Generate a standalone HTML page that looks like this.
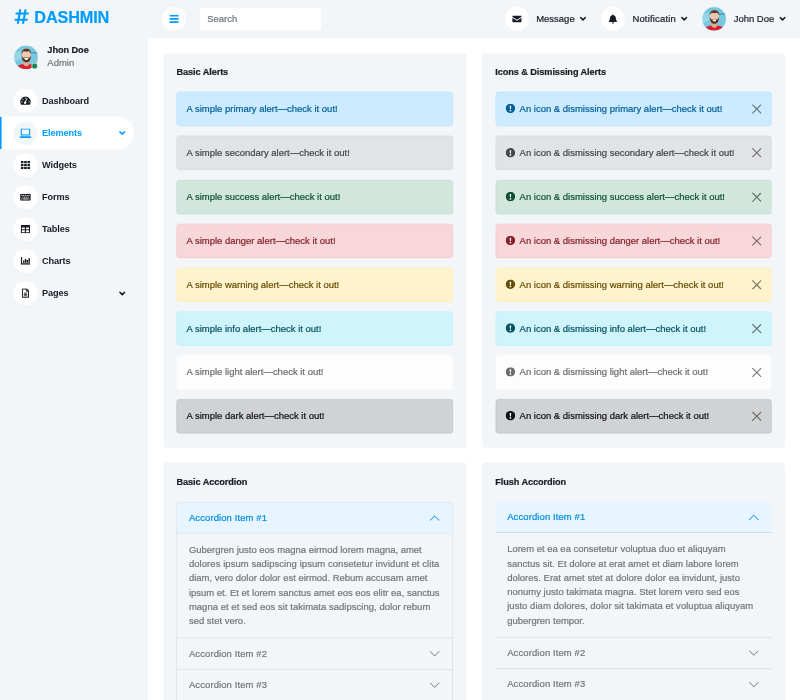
<!DOCTYPE html>
<html lang="en">
<head>
<meta charset="utf-8">
<title>DASHMIN - Bootstrap Admin Template</title>
<style>
*{box-sizing:border-box;margin:0;padding:0}
html,body{width:800px;height:700px;overflow:hidden;background:#fff}
body{font-family:"Liberation Sans",sans-serif;color:#757575;font-size:16px;line-height:24px;-webkit-text-stroke:0.35px currentColor}
#stage{position:absolute;left:0;top:0;width:1351px;height:1183px;transform:scale(0.59215);transform-origin:0 0;background:#fff;overflow:hidden}
h3,h6{font-family:"Liberation Sans",sans-serif;font-weight:700;color:#191C24;line-height:1.2}
h6{font-size:15.5px;-webkit-text-stroke:0.35px currentColor}
svg{display:block}

/* Sidebar */
.sidebar{position:absolute;left:0;top:0;width:250px;height:1183px;background:#F3F6F9;padding-right:24px}
.brand{display:block;margin:0 24px 16px 24px;height:59.5px;padding-top:11.5px;white-space:nowrap}
.brand h3{font-size:27.5px;color:#009CFF;display:flex;align-items:center;letter-spacing:-0.3px}
.brand svg{margin-right:9px}
.user{display:flex;align-items:center;margin-left:24px;margin-bottom:24.9px;height:43px}
.avatar{position:relative;width:40px;height:40px}
.avatar svg{border-radius:50%}
.avatar .dot{position:absolute;right:0;bottom:0;width:11.5px;height:11.5px;border-radius:50%;background:#198754;border:1.6px solid #fff}
.user .who{margin-left:16px}
.user .who h6{margin-bottom:0;line-height:19px;letter-spacing:-0.1px}
.user .who span{display:block;line-height:24px;margin-top:1px}
.nav a{-webkit-text-stroke:0;display:flex;align-items:center;height:54.1px;padding:7px 20px;border-left:3px solid #F3F6F9;border-radius:0 30px 30px 0;color:#191C24;font-weight:700;text-decoration:none;position:relative;font-size:15.5px;letter-spacing:-0.2px}
.nav a .ic{width:40px;height:40px;border-radius:40px;background:#fff;display:inline-flex;align-items:center;justify-content:center;margin-right:8px;flex:none}
.nav a.active{background:#fff;border-left-color:#009CFF;color:#009CFF}
.nav a.active .ic{background:#F3F6F9}
.nav a .chev{position:absolute;right:14px;top:24px}

/* Topbar */
.topbar{position:absolute;left:250px;top:0;width:1101px;height:64px;background:#F3F6F9;padding:0 24px;display:flex;align-items:center}
.toggler{width:40px;height:40px;border-radius:40px;background:#fff;display:inline-flex;align-items:center;justify-content:center;flex:none}
.search{margin-left:24px;width:204px;height:38px;background:#fff;border-radius:5px;padding:7px 12px;line-height:24px;color:#6c757d}
.tnav{margin-left:auto;display:flex;align-items:center}
.tnav .item{display:flex;align-items:center;margin-left:25px;color:#191C24;height:64px;white-space:nowrap}
.tnav .item .ic{width:40px;height:40px;border-radius:40px;background:#fff;display:inline-flex;align-items:center;justify-content:center;margin-right:13px;flex:none}
.tnav .item .chev{margin-left:8.5px}
.tnav .item .pic{width:40px;height:40px;border-radius:50%;overflow:hidden;margin-right:13px;flex:none}

/* Content */
.card{position:absolute;background:#F3F6F9;border-radius:5px;padding:22.5px 23px 24px 22.5px}
.card h6{margin-bottom:24px;height:19.2px;letter-spacing:-0.15px;position:relative;top:.9px}
.alert{position:relative;height:58px;padding:16px;margin-bottom:16.17px;border:1px solid transparent;border-radius:5px;line-height:24px;white-space:nowrap;display:flex;align-items:center}
.alert svg.ex{margin-right:8px;flex:none;position:relative;top:-.8px}
.alert .x{position:absolute;right:16px;top:20px;opacity:.5}
.a-primary{color:#005e99;background:#ccebff;border-color:#b3e1ff}
.a-secondary{color:#41464b;background:#e2e3e5;border-color:#d3d6d8}
.a-success{color:#0f5132;background:#d1e7dd;border-color:#badbcc}
.a-danger{color:#842029;background:#f8d7da;border-color:#f5c2c7}
.a-warning{color:#664d03;background:#fff3cd;border-color:#ffecb5}
.a-info{color:#055160;background:#cff4fc;border-color:#b6effb}
.a-light{color:#6c6d6f;background:#fdfdfe;border-color:#fbfcfd}
.a-dark{color:#0f1116;background:#d1d2d3;border-color:#babbbd}

.acc .item{border:1px solid rgba(0,0,0,.125);border-top:0}
.acc .item:first-child{border-top:1px solid rgba(0,0,0,.125);border-radius:5px 5px 0 0}
.acc .btn{letter-spacing:.18px;height:52px;padding:16px 20px;display:flex;align-items:center;justify-content:space-between;color:#757575;white-space:nowrap}
.acc .btn.open{color:#008ce6;background:#e6f5ff;box-shadow:inset 0 -1px 0 rgba(0,0,0,.125)}
.acc .item:first-child .btn{border-radius:4px 4px 0 0}
.acc .body{padding:16.5px 20px 15.5px;white-space:nowrap}
.acc.flush .item{border-left:0;border-right:0;border-radius:0}
.acc.flush .item:first-child{border-top:0}
.acc.flush .item:first-child .btn{border-radius:0}
</style>
</head>
<body>
<div id="stage">

<!-- Sidebar -->
<div class="sidebar">
  <a class="brand">
    <h3><svg width="25" height="28" viewBox="0 0 448 512" fill="#009CFF"><path d="M440.7 182.2l7.1-40c1.3-7.4-4.3-14.1-11.8-14.1h-74.8l14.6-81.9c1.3-7.4-4.3-14.1-11.8-14.1h-40.6c-5.800 0-10.800 4.200-11.800 9.900l-15.400 86.100h-98.600l14.600-81.900c1.300-7.400-4.300-14.100-11.800-14.100h-40.600c-5.800 0-10.800 4.200-11.800 9.900l-15.400 86.100h-79.100c-5.800 0-10.800 4.200-11.800 9.900l-7.100 40c-1.300 7.400 4.300 14.100 11.800 14.100h74.800l-22.900 128h-79.100c-5.800 0-10.800 4.200-11.800 9.900l-7.100 40c-1.300 7.400 4.300 14.100 11.800 14.100h74.800l-14.600 81.900c-1.300 7.400 4.300 14.100 11.800 14.100h40.600c5.800 0 10.800-4.200 11.800-9.900l15.400-86.100h98.600l-14.600 81.900c-1.300 7.400 4.300 14.100 11.800 14.100h40.600c5.800 0 10.800-4.200 11.800-9.900l15.400-86.100h79.100c5.800 0 10.800-4.200 11.800-9.900l7.100-40c1.300-7.400-4.300-14.100-11.800-14.100h-74.800l22.900-128h79.100c5.800 0 10.800-4.200 11.800-9.900zm-175.500 137.900h-98.600l22.900-128h98.600l-22.900 128z"/></svg>DASHMIN</h3>
  </a>
  <div class="user">
    <div class="avatar">
      <svg width="40" height="40" viewBox="0 0 40 40"><rect width="40" height="40" fill="#79c6df"/><path d="M0 12l12-3v14L0 27z" fill="#a3dbea" opacity=".7"/><path d="M28 11h12v2.200H28z" fill="#4f9dbb"/><path d="M3 40c0-6.500 6-9 17.500-9S37 33.500 37 40z" fill="#d91f2d"/><path d="M15.500 25h10v7c-1.500 2-3.200 3-5 3s-3.500-1-5-3z" fill="#deab90"/><ellipse cx="20.500" cy="16.500" rx="7.800" ry="10.300" fill="#edc9b3"/><path d="M12.700 16c-.2 9 3.800 12.300 7.800 12.300s8-3.300 7.800-12.300c-1 3.200-1.600 4.300-2.600 4.900-1.700-1.100-3.400-1.400-5.200-1.400s-3.500.3-5.200 1.400c-1-.6-1.600-1.700-2.600-4.900z" fill="#553424"/><path d="M16.800 21q3.700-1 7.400 0-.6 3.200-3.700 3.200t-3.700-3.200z" fill="#fff"/><path d="M12.700 14.500c-.8-6 3-9 7.800-9s8.600 3 7.800 9c-1-3-2.200-4.300-3.400-4.900-2.900.9-5.900.9-8.800 0-1.200.6-2.400 1.900-3.400 4.900z" fill="#633a27"/></svg>
      <div class="dot"></div>
    </div>
    <div class="who"><h6>Jhon Doe</h6><span>Admin</span></div>
  </div>
  <div class="nav">
    <a><span class="ic"><svg width="18" height="16" viewBox="0 0 18 16"><path fill="#191C24" d="M9 1a9 9 0 0 0-7.700 13.600c.2.300.500.400.800.400h13.800c.3 0 .6-.1.800-.4A9 9 0 0 0 9 1z"/><g fill="#fff"><circle cx="9" cy="3.600" r="1"/><circle cx="4.600" cy="5.600" r="1"/><circle cx="3" cy="10" r="1"/><circle cx="15" cy="10" r="1"/><path d="M12.300 4.700l-2.400 5.300a2 2 0 1 1-1.500-.6l2.500-5.200z"/></g></svg></span>Dashboard</a>
    <a class="active"><span class="ic"><svg width="20" height="16" viewBox="0 0 20 16"><path fill="#009CFF" fill-rule="evenodd" d="M3.500 0h13c.8 0 1.500.7 1.500 1.500V12H2V1.500C2 .7 2.700 0 3.500 0zM3.900 1.900v8.200h12.200V1.900zM0 13.300h20v.7c0 1.100-.9 2-2 2H2c-1.100 0-2-.9-2-2z"/></svg></span>Elements<svg class="chev" width="11" height="8" viewBox="0 0 11 8"><path d="M1.500 1.500l4 4 4-4" fill="none" stroke="#009CFF" stroke-width="2.700" stroke-linecap="round" stroke-linejoin="round"/></svg></a>
    <a><span class="ic"><svg width="16" height="14" viewBox="0 0 16 14"><g fill="#191C24"><rect x="0" y="0" width="4.600" height="3.800" rx=".7"/><rect x="5.700" y="0" width="4.600" height="3.800" rx=".7"/><rect x="11.400" y="0" width="4.600" height="3.800" rx=".7"/><rect x="0" y="5.100" width="4.600" height="3.800" rx=".7"/><rect x="5.700" y="5.100" width="4.600" height="3.800" rx=".7"/><rect x="11.400" y="5.100" width="4.600" height="3.800" rx=".7"/><rect x="0" y="10.200" width="4.600" height="3.800" rx=".7"/><rect x="5.700" y="10.200" width="4.600" height="3.800" rx=".7"/><rect x="11.400" y="10.200" width="4.600" height="3.800" rx=".7"/></g></svg></span>Widgets</a>
    <a><span class="ic"><svg width="18" height="12" viewBox="0 0 18 12"><rect width="18" height="12" rx="1.500" fill="#191C24"/><g fill="#fff"><rect x="2" y="2.200" width="1.800" height="1.600"/><rect x="5" y="2.200" width="1.800" height="1.600"/><rect x="8" y="2.200" width="1.800" height="1.600"/><rect x="11" y="2.200" width="1.800" height="1.600"/><rect x="14" y="2.200" width="1.800" height="1.600"/><rect x="3.500" y="5.200" width="1.800" height="1.600"/><rect x="6.500" y="5.200" width="1.800" height="1.600"/><rect x="9.500" y="5.200" width="1.800" height="1.600"/><rect x="12.500" y="5.200" width="1.800" height="1.600"/><rect x="2" y="8.200" width="1.800" height="1.600"/><rect x="5" y="8.200" width="8" height="1.600"/><rect x="14" y="8.200" width="1.800" height="1.600"/></g></svg></span>Forms</a>
    <a><span class="ic"><svg width="16" height="14" viewBox="0 0 16 14"><path fill="#191C24" fill-rule="evenodd" d="M1.500 0h13c.8 0 1.500.7 1.500 1.500v11c0 .8-.7 1.500-1.500 1.500h-13C.7 14 0 13.300 0 12.500v-11C0 .7.700 0 1.500 0zM2 4v3.300h5V4zm7 0v3.300h5V4zM2 9v3.300h5V9zm7 0v3.300h5V9z"/></svg></span>Tables</a>
    <a><span class="ic"><svg width="16" height="13" viewBox="0 0 16 13"><path fill="#191C24" d="M0 0h2.300v10.700H16V13H0zM3.800 6h2.400v3.700H3.800zm3.100-2.500h2.400v6.200H6.900zm3.100 1.500h2.400v4.700H10zm3.100-3h2.400v7.700h-2.400z"/></svg></span>Charts</a>
    <a><span class="ic"><svg width="12" height="16" viewBox="0 0 12 16"><path fill="none" stroke="#191C24" stroke-width="1.900" d="M1.500.75h6l3.750 3.750v10c0 .4-.3.750-.750.750h-9c-.4 0-.750-.3-.750-.750v-13c0-.4.300-.750.750-.750z"/><path fill="none" stroke="#191C24" stroke-width="1.400" d="M7.500.75v4h3.750M3.200 8h5.600M3.200 10.200h5.600M3.200 12.400h5.600"/></svg></span>Pages<svg class="chev" width="11" height="8" viewBox="0 0 11 8"><path d="M1.500 1.500l4 4 4-4" fill="none" stroke="#191C24" stroke-width="2.700" stroke-linecap="round" stroke-linejoin="round"/></svg></a>
  </div>
</div>

<!-- Topbar -->
<div class="topbar">
  <span class="toggler"><svg width="16" height="14" viewBox="0 0 16 14"><g fill="#009CFF"><rect y="0" width="16" height="3" rx=".8"/><rect y="5.500" width="16" height="3" rx=".8"/><rect y="11" width="16" height="3" rx=".8"/></g></svg></span>
  <div class="search">Search</div>
  <div class="tnav">
    <div class="item"><span class="ic"><svg width="16" height="12" viewBox="0 0 16 12"><path fill="#191C24" d="M1.500 0h13c.8 0 1.500.7 1.500 1.500v.6L8 7.300 0 2.100v-.6C0 .7.700 0 1.500 0zM0 3.900l8 5.200 8-5.200v6.600c0 .8-.7 1.500-1.500 1.500h-13C.7 12 0 11.300 0 10.500z"/></svg></span><span>Message</span><svg class="chev" width="11" height="8" viewBox="0 0 11 8"><path d="M1.500 1.500l4 4 4-4" fill="none" stroke="#191C24" stroke-width="2.700" stroke-linecap="round" stroke-linejoin="round"/></svg></div>
    <div class="item"><span class="ic"><svg width="14" height="16" viewBox="0 0 14 16"><path fill="#191C24" d="M7 16a2 2 0 0 0 2-2H5a2 2 0 0 0 2 2zm6.700-4.700c-.6-.6-1.700-1.600-1.700-4.800 0-2.400-1.700-4.300-4-4.800V1a1 1 0 0 0-2 0v.7c-2.300.5-4 2.400-4 4.800 0 3.200-1.100 4.200-1.700 4.800-.2.200-.3.400-.3.700 0 .5.400 1 1 1h12c.6 0 1-.5 1-1 0-.3-.1-.5-.3-.7z"/></svg></span><span style="letter-spacing:.3px">Notificatin</span><svg class="chev" width="11" height="8" viewBox="0 0 11 8"><path d="M1.500 1.500l4 4 4-4" fill="none" stroke="#191C24" stroke-width="2.700" stroke-linecap="round" stroke-linejoin="round"/></svg></div>
    <div class="item"><span class="pic"><svg width="40" height="40" viewBox="0 0 40 40"><rect width="40" height="40" fill="#79c6df"/><path d="M0 12l12-3v14L0 27z" fill="#a3dbea" opacity=".7"/><path d="M28 11h12v2.200H28z" fill="#4f9dbb"/><path d="M3 40c0-6.500 6-9 17.500-9S37 33.500 37 40z" fill="#d91f2d"/><path d="M15.500 25h10v7c-1.500 2-3.200 3-5 3s-3.500-1-5-3z" fill="#deab90"/><ellipse cx="20.500" cy="16.500" rx="7.800" ry="10.300" fill="#edc9b3"/><path d="M12.700 16c-.2 9 3.800 12.300 7.800 12.300s8-3.300 7.800-12.300c-1 3.200-1.600 4.300-2.600 4.900-1.700-1.100-3.400-1.400-5.200-1.400s-3.500.3-5.200 1.400c-1-.6-1.600-1.700-2.600-4.900z" fill="#553424"/><path d="M16.800 21q3.700-1 7.400 0-.6 3.200-3.700 3.200t-3.700-3.200z" fill="#fff"/><path d="M12.700 14.500c-.8-6 3-9 7.800-9s8.600 3 7.800 9c-1-3-2.200-4.300-3.400-4.900-2.900.9-5.900.9-8.800 0-1.200.6-2.400 1.900-3.400 4.900z" fill="#633a27"/></svg></span><span>John Doe</span><svg class="chev" width="11" height="8" viewBox="0 0 11 8"><path d="M1.500 1.500l4 4 4-4" fill="none" stroke="#191C24" stroke-width="2.700" stroke-linecap="round" stroke-linejoin="round"/></svg></div>
  </div>
</div>

<div class="card" style="left:275.5px;top:89.5px;width:512px;height:666.9px">
  <h6>Basic Alerts</h6>
  <div class="alert a-primary"><span class="t1">A simple primary alert—check it out!</span></div>
  <div class="alert a-secondary"><span class="t1">A simple secondary alert—check it out!</span></div>
  <div class="alert a-success"><span class="t1">A simple success alert—check it out!</span></div>
  <div class="alert a-danger"><span class="t1">A simple danger alert—check it out!</span></div>
  <div class="alert a-warning"><span class="t1">A simple warning alert—check it out!</span></div>
  <div class="alert a-info"><span class="t1">A simple info alert—check it out!</span></div>
  <div class="alert a-light"><span class="t1">A simple light alert—check it out!</span></div>
  <div class="alert a-dark"><span class="t1">A simple dark alert—check it out!</span></div>
</div>
<div class="card" style="left:814px;top:89.5px;width:512px;height:666.9px">
  <h6>Icons &amp; Dismissing Alerts</h6>
  <div class="alert a-primary"><svg class="ex" width="16" height="16" viewBox="0 0 16 16"><circle cx="8" cy="8" r="8" fill="currentColor"/><path d="M6.700 3.600h2.600l-.4 5.600H7.100z" fill="#fff"/><circle cx="8" cy="11.700" r="1.450" fill="#fff"/></svg><span class="t2">An icon &amp; dismissing primary alert—check it out!</span><svg class="x" width="16" height="16" viewBox="0 0 16 16"><path fill="#000" d="M.293.293a1 1 0 011.414 0L8 6.586 14.293.293a1 1 0 111.414 1.414L9.414 8l6.293 6.293a1 1 0 01-1.414 1.414L8 9.414l-6.293 6.293a1 1 0 01-1.414-1.414L6.586 8 .293 1.707a1 1 0 010-1.414z"/></svg></div>
  <div class="alert a-secondary"><svg class="ex" width="16" height="16" viewBox="0 0 16 16"><circle cx="8" cy="8" r="8" fill="currentColor"/><path d="M6.700 3.600h2.600l-.4 5.600H7.100z" fill="#fff"/><circle cx="8" cy="11.700" r="1.450" fill="#fff"/></svg><span class="t2">An icon &amp; dismissing secondary alert—check it out!</span><svg class="x" width="16" height="16" viewBox="0 0 16 16"><path fill="#000" d="M.293.293a1 1 0 011.414 0L8 6.586 14.293.293a1 1 0 111.414 1.414L9.414 8l6.293 6.293a1 1 0 01-1.414 1.414L8 9.414l-6.293 6.293a1 1 0 01-1.414-1.414L6.586 8 .293 1.707a1 1 0 010-1.414z"/></svg></div>
  <div class="alert a-success"><svg class="ex" width="16" height="16" viewBox="0 0 16 16"><circle cx="8" cy="8" r="8" fill="currentColor"/><path d="M6.700 3.600h2.600l-.4 5.600H7.100z" fill="#fff"/><circle cx="8" cy="11.700" r="1.450" fill="#fff"/></svg><span class="t2">An icon &amp; dismissing success alert—check it out!</span><svg class="x" width="16" height="16" viewBox="0 0 16 16"><path fill="#000" d="M.293.293a1 1 0 011.414 0L8 6.586 14.293.293a1 1 0 111.414 1.414L9.414 8l6.293 6.293a1 1 0 01-1.414 1.414L8 9.414l-6.293 6.293a1 1 0 01-1.414-1.414L6.586 8 .293 1.707a1 1 0 010-1.414z"/></svg></div>
  <div class="alert a-danger"><svg class="ex" width="16" height="16" viewBox="0 0 16 16"><circle cx="8" cy="8" r="8" fill="currentColor"/><path d="M6.700 3.600h2.600l-.4 5.600H7.100z" fill="#fff"/><circle cx="8" cy="11.700" r="1.450" fill="#fff"/></svg><span class="t2">An icon &amp; dismissing danger alert—check it out!</span><svg class="x" width="16" height="16" viewBox="0 0 16 16"><path fill="#000" d="M.293.293a1 1 0 011.414 0L8 6.586 14.293.293a1 1 0 111.414 1.414L9.414 8l6.293 6.293a1 1 0 01-1.414 1.414L8 9.414l-6.293 6.293a1 1 0 01-1.414-1.414L6.586 8 .293 1.707a1 1 0 010-1.414z"/></svg></div>
  <div class="alert a-warning"><svg class="ex" width="16" height="16" viewBox="0 0 16 16"><circle cx="8" cy="8" r="8" fill="currentColor"/><path d="M6.700 3.600h2.600l-.4 5.600H7.100z" fill="#fff"/><circle cx="8" cy="11.700" r="1.450" fill="#fff"/></svg><span class="t2">An icon &amp; dismissing warning alert—check it out!</span><svg class="x" width="16" height="16" viewBox="0 0 16 16"><path fill="#000" d="M.293.293a1 1 0 011.414 0L8 6.586 14.293.293a1 1 0 111.414 1.414L9.414 8l6.293 6.293a1 1 0 01-1.414 1.414L8 9.414l-6.293 6.293a1 1 0 01-1.414-1.414L6.586 8 .293 1.707a1 1 0 010-1.414z"/></svg></div>
  <div class="alert a-info"><svg class="ex" width="16" height="16" viewBox="0 0 16 16"><circle cx="8" cy="8" r="8" fill="currentColor"/><path d="M6.700 3.600h2.600l-.4 5.600H7.100z" fill="#fff"/><circle cx="8" cy="11.700" r="1.450" fill="#fff"/></svg><span class="t2">An icon &amp; dismissing info alert—check it out!</span><svg class="x" width="16" height="16" viewBox="0 0 16 16"><path fill="#000" d="M.293.293a1 1 0 011.414 0L8 6.586 14.293.293a1 1 0 111.414 1.414L9.414 8l6.293 6.293a1 1 0 01-1.414 1.414L8 9.414l-6.293 6.293a1 1 0 01-1.414-1.414L6.586 8 .293 1.707a1 1 0 010-1.414z"/></svg></div>
  <div class="alert a-light"><svg class="ex" width="16" height="16" viewBox="0 0 16 16"><circle cx="8" cy="8" r="8" fill="currentColor"/><path d="M6.700 3.600h2.600l-.4 5.600H7.100z" fill="#fff"/><circle cx="8" cy="11.700" r="1.450" fill="#fff"/></svg><span class="t2">An icon &amp; dismissing light alert—check it out!</span><svg class="x" width="16" height="16" viewBox="0 0 16 16"><path fill="#000" d="M.293.293a1 1 0 011.414 0L8 6.586 14.293.293a1 1 0 111.414 1.414L9.414 8l6.293 6.293a1 1 0 01-1.414 1.414L8 9.414l-6.293 6.293a1 1 0 01-1.414-1.414L6.586 8 .293 1.707a1 1 0 010-1.414z"/></svg></div>
  <div class="alert a-dark"><svg class="ex" width="16" height="16" viewBox="0 0 16 16"><circle cx="8" cy="8" r="8" fill="currentColor"/><path d="M6.700 3.600h2.600l-.4 5.600H7.100z" fill="#fff"/><circle cx="8" cy="11.700" r="1.450" fill="#fff"/></svg><span class="t2">An icon &amp; dismissing dark alert—check it out!</span><svg class="x" width="16" height="16" viewBox="0 0 16 16"><path fill="#000" d="M.293.293a1 1 0 011.414 0L8 6.586 14.293.293a1 1 0 111.414 1.414L9.414 8l6.293 6.293a1 1 0 01-1.414 1.414L8 9.414l-6.293 6.293a1 1 0 01-1.414-1.414L6.586 8 .293 1.707a1 1 0 010-1.414z"/></svg></div>
</div>
<div class="card" style="left:275.5px;top:780.8px;width:512px;height:420px;padding-top:23.7px">
  <h6>Basic Accordion</h6>
  <div class="acc">
    <div class="item"><div class="btn open"><span>Accordion Item #1</span><svg width="20" height="20" viewBox="0 0 16 16"><path fill="#008ce6" fill-rule="evenodd" transform="rotate(180 8 8)" d="M1.646 4.646a.5.5 0 0 1 .708 0L8 10.293l5.646-5.647a.5.5 0 0 1 .708.708l-6 6a.5.5 0 0 1-.708 0l-6-6a.5.5 0 0 1 0-.708z"/></svg></div><div class="body"><span class="ln" style="letter-spacing:-0.015px">Gubergren justo eos magna eirmod lorem magna, amet</span><br><span class="ln" style="letter-spacing:0.117px">dolores ipsum sadipscing ipsum consetetur invidunt et clita</span><br><span class="ln">diam, vero dolor dolor est eirmod. Rebum accusam amet</span><br><span class="ln">ipsum et. Et et lorem sanctus amet eos eos elitr ea, sanctus</span><br><span class="ln" style="letter-spacing:0.055px">magna et et sed eos sit takimata sadipscing, dolor rebum</span><br><span class="ln">sed stet vero.</span></div></div>
    <div class="item"><div class="btn"><span>Accordion Item #2</span><svg width="20" height="20" viewBox="0 0 16 16"><path fill="#757575" fill-rule="evenodd" d="M1.646 4.646a.5.5 0 0 1 .708 0L8 10.293l5.646-5.647a.5.5 0 0 1 .708.708l-6 6a.5.5 0 0 1-.708 0l-6-6a.5.5 0 0 1 0-.708z"/></svg></div></div>
    <div class="item"><div class="btn"><span>Accordion Item #3</span><svg width="20" height="20" viewBox="0 0 16 16"><path fill="#757575" fill-rule="evenodd" d="M1.646 4.646a.5.5 0 0 1 .708 0L8 10.293l5.646-5.647a.5.5 0 0 1 .708.708l-6 6a.5.5 0 0 1-.708 0l-6-6a.5.5 0 0 1 0-.708z"/></svg></div></div>
  </div>
</div>
<div class="card" style="left:814px;top:780.8px;width:512px;height:420px;padding-top:23.7px">
  <h6>Flush Accordion</h6>
  <div class="acc flush">
    <div class="item"><div class="btn open"><span>Accordion Item #1</span><svg width="20" height="20" viewBox="0 0 16 16"><path fill="#008ce6" fill-rule="evenodd" transform="rotate(180 8 8)" d="M1.646 4.646a.5.5 0 0 1 .708 0L8 10.293l5.646-5.647a.5.5 0 0 1 .708.708l-6 6a.5.5 0 0 1-.708 0l-6-6a.5.5 0 0 1 0-.708z"/></svg></div><div class="body"><span class="ln">Lorem et ea ea consetetur voluptua duo et aliquyam</span><br><span class="ln" style="letter-spacing:0.0445px">sanctus sit. Et dolore at erat amet et diam labore lorem</span><br><span class="ln" style="letter-spacing:0.015px">dolores. Erat amet stet at dolore dolor ea invidunt, justo</span><br><span class="ln" style="letter-spacing:0.02px">nonumy justo takimata magna. Stet lorem vero sed eos</span><br><span class="ln" style="letter-spacing:0.08px">justo diam dolores, dolor sit takimata et voluptua aliquyam</span><br><span class="ln">gubergren tempor.</span></div></div>
    <div class="item"><div class="btn"><span>Accordion Item #2</span><svg width="20" height="20" viewBox="0 0 16 16"><path fill="#757575" fill-rule="evenodd" d="M1.646 4.646a.5.5 0 0 1 .708 0L8 10.293l5.646-5.647a.5.5 0 0 1 .708.708l-6 6a.5.5 0 0 1-.708 0l-6-6a.5.5 0 0 1 0-.708z"/></svg></div></div>
    <div class="item"><div class="btn"><span>Accordion Item #3</span><svg width="20" height="20" viewBox="0 0 16 16"><path fill="#757575" fill-rule="evenodd" d="M1.646 4.646a.5.5 0 0 1 .708 0L8 10.293l5.646-5.647a.5.5 0 0 1 .708.708l-6 6a.5.5 0 0 1-.708 0l-6-6a.5.5 0 0 1 0-.708z"/></svg></div></div>
  </div>
</div>

</div>
</body>
</html>
